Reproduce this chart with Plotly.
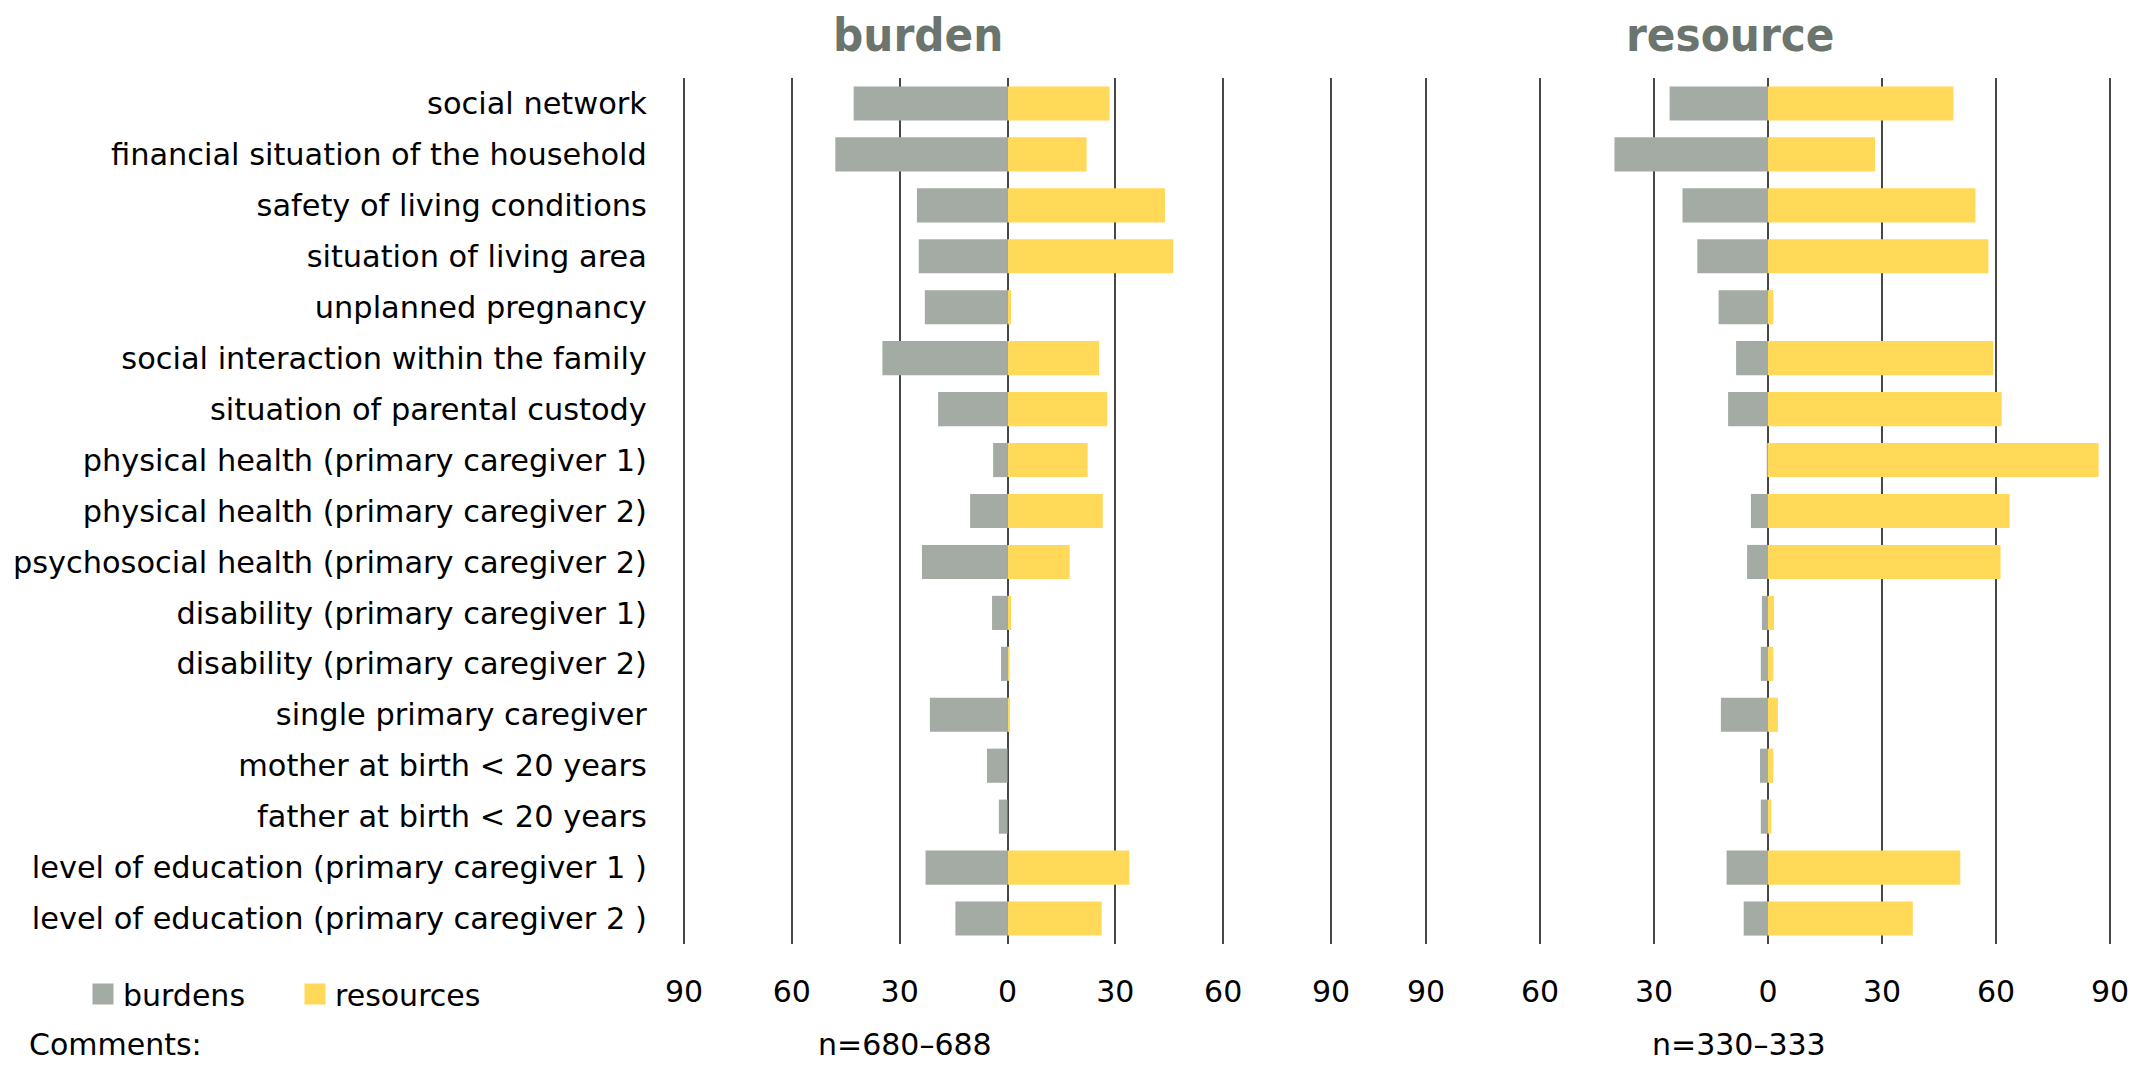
import plotly.graph_objects as go

categories = [
    "social network",
    "financial situation of the household",
    "safety of living conditions",
    "situation of living area",
    "unplanned pregnancy",
    "social interaction within the family",
    "situation of parental custody",
    "physical health (primary caregiver 1)",
    "physical health (primary caregiver 2)",
    "psychosocial health (primary caregiver 2)",
    "disability (primary caregiver 1)",
    "disability (primary caregiver 2)",
    "single primary caregiver",
    "mother at birth < 20 years",
    "father at birth < 20 years",
    "level of education (primary caregiver 1 )",
    "level of education (primary caregiver 2 )",
]

# panel "burden" (n=680-688)
burden_burdens = [42.8, 47.9, 25.2, 24.7, 23.0, 34.8, 19.3, 4.0, 10.4, 23.8, 4.3, 1.8, 21.6, 5.7, 2.4, 22.8, 14.5]
burden_resources = [28.4, 22.0, 43.8, 46.1, 1.0, 25.5, 27.8, 22.3, 26.5, 17.3, 1.0, 0.6, 0.7, 0.0, 0.0, 33.9, 26.2]

# panel "resource" (n=330-333)
resource_burdens = [25.9, 40.4, 22.5, 18.6, 13.0, 8.4, 10.5, 0.2, 4.5, 5.5, 1.6, 1.9, 12.4, 2.1, 1.9, 10.9, 6.4]
resource_resources = [48.8, 28.2, 54.6, 58.0, 1.4, 59.3, 61.5, 87.0, 63.6, 61.2, 1.6, 1.4, 2.6, 1.4, 0.9, 50.6, 38.1]

tick_vals = [-90, -60, -30, 0, 30, 60, 90]
tick_text = ["90", "60", "30", "0", "30", "60", "90"]

panel_titles = ["burden", "resource"]
sample_sizes = ["n=680–688", "n=330–333"]
series_names = ["burdens", "resources"]

GREY = "#a4aba5"
YELLOW = "#ffd957"
LINE = "#474747"
TITLE_COLOR = "#6b756e"
FONT = "DejaVu Sans, sans-serif"
TITLE_FONT = "DejaVu Sans Condensed, DejaVu Sans, sans-serif"
FS = 30

# the page body has an 8px margin on every side: size the figure so the page
# is exactly the window size (no scrollbars)
OFF = 8
W, H = 2145 - 2 * OFF, 1072 - 2 * OFF


def xp(px):
    return (px - OFF) / W


def yp(py):
    return 1 - (py - OFF) / H


fig = go.Figure()

panels = [
    (burden_burdens, burden_resources, "x", "y"),
    (resource_burdens, resource_resources, "x2", "y2"),
]
for b_vals, r_vals, xa, ya in panels:
    fig.add_trace(go.Bar(
        y=categories, x=[-v for v in b_vals], orientation="h",
        name=series_names[0], marker=dict(color=GREY, line=dict(width=0)),
        xaxis=xa, yaxis=ya, showlegend=False,
        customdata=b_vals, hovertemplate="%{y}: %{customdata}<extra>burdens</extra>",
    ))
    fig.add_trace(go.Bar(
        y=categories, x=r_vals, orientation="h",
        name=series_names[1], marker=dict(color=YELLOW, line=dict(width=0)),
        xaxis=xa, yaxis=ya, showlegend=False,
        hovertemplate="%{y}: %{x}<extra>resources</extra>",
    ))

# legend entries (larger square swatches than the default bar legend symbol)
for name, col in zip(series_names, [GREY, YELLOW]):
    fig.add_trace(go.Scatter(
        x=[None], y=[None], mode="markers", name=name,
        marker=dict(symbol="square", size=16, color=col, line=dict(color=col, width=5)),
        xaxis="x", yaxis="y", showlegend=True, hoverinfo="skip",
    ))

PAD = 0.6
y_dom = [yp(944), yp(78)]
u1 = (1331 - 684) / 180
u2 = (2110 - 1426) / 180
x1_dom = [xp(684 - PAD * u1), xp(1331 + PAD * u1)]
x2_dom = [xp(1426 - PAD * u2), xp(2110 + PAD * u2)]

common_x = dict(
    range=[-90 - PAD, 90 + PAD], tickvals=tick_vals, ticktext=tick_text,
    showgrid=True, gridcolor=LINE, gridwidth=2,
    zeroline=True, zerolinecolor=LINE, zerolinewidth=2,
    showline=False, ticks="", ticklabelstandoff=27, automargin=False,
    tickfont=dict(family=FONT, size=FS, color="#000000"),
    fixedrange=True,
)
common_y = dict(
    type="category", categoryorder="array", categoryarray=categories,
    autorange="reversed", showgrid=False, zeroline=False, showline=False,
    ticks="", fixedrange=True, automargin=False,
)

fig.update_layout(
    width=W, height=H,
    margin=dict(l=0, r=0, t=0, b=0, autoexpand=False),
    paper_bgcolor="white", plot_bgcolor="white",
    barmode="relative", bargap=0.33,
    font=dict(family=FONT, size=FS, color="#000000"),
    xaxis=dict(domain=x1_dom, anchor="y", **common_x),
    xaxis2=dict(domain=x2_dom, anchor="y2", **common_x),
    yaxis=dict(domain=y_dom, anchor="x", showticklabels=True, ticklabelstandoff=34,
               tickfont=dict(family=FONT, size=30.4, color="#000000"), **common_y),
    yaxis2=dict(domain=y_dom, anchor="x2", showticklabels=False, matches="y", **common_y),
    legend=dict(
        orientation="h", x=xp(83), y=yp(994), xanchor="left", yanchor="middle",
        font=dict(family=FONT, size=FS, color="#000000"),
        entrywidth=167, entrywidthmode="pixels", bgcolor="rgba(0,0,0,0)",
        traceorder="normal",
    ),
    annotations=[
        dict(text="<b>" + panel_titles[0] + "</b>", x=xp(918), y=yp(34.5), xref="paper", yref="paper",
             xanchor="center", yanchor="middle", showarrow=False,
             font=dict(family=TITLE_FONT, size=47, color=TITLE_COLOR)),
        dict(text="<b>" + panel_titles[1] + "</b>", x=xp(1730), y=yp(34.5), xref="paper", yref="paper",
             xanchor="center", yanchor="middle", showarrow=False,
             font=dict(family=TITLE_FONT, size=47, color=TITLE_COLOR)),
        dict(text=sample_sizes[0], x=xp(905), y=yp(1064), xref="paper", yref="paper",
             xanchor="center", yanchor="bottom", showarrow=False,
             font=dict(family=FONT, size=FS, color="#000000")),
        dict(text=sample_sizes[1], x=xp(1739), y=yp(1064), xref="paper", yref="paper",
             xanchor="center", yanchor="bottom", showarrow=False,
             font=dict(family=FONT, size=FS, color="#000000")),
        dict(text="Comments:", x=xp(27), y=yp(1064), xref="paper", yref="paper",
             xanchor="left", yanchor="bottom", showarrow=False,
             font=dict(family=FONT, size=FS, color="#000000")),
    ],
)

fig.write_html("out.html")
